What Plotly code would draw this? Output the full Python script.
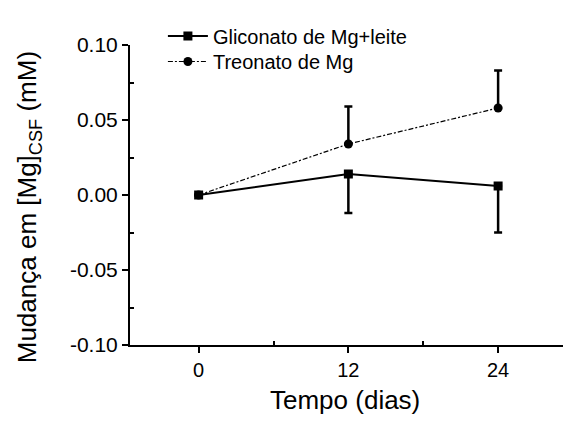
import plotly.graph_objects as go

# Time points (days) and change in CSF magnesium (mM)
dias = [0, 12, 24]
gliconato = [0.0, 0.014, 0.006]
gliconato_err = [0.0, 0.026, 0.031]
treonato = [0.0, 0.034, 0.058]
treonato_err = [0.0, 0.025, 0.025]

x_ticks = [0, 12, 24]
y_ticks = [-0.10, -0.05, 0.00, 0.05, 0.10]
y_tick_labels = ["-0.10", "-0.05", "0.00", "0.05", "0.10"]

FONT = "Liberation Sans, Arial, sans-serif"

fig = go.Figure()

fig.add_trace(go.Scatter(
    x=dias, y=gliconato,
    name="Gliconato de Mg+leite",
    mode="lines+markers",
    line=dict(color="black", width=2),
    marker=dict(symbol="square", size=9, color="black"),
    error_y=dict(type="data", symmetric=False, array=[0, 0, 0],
                 arrayminus=gliconato_err, color="black", thickness=2.5, width=4),
    legend="legend",
))

fig.add_trace(go.Scatter(
    x=dias, y=treonato,
    name="Treonato de Mg",
    mode="lines+markers",
    line=dict(color="black", width=1.2, dash="5px,2px,2px,2px"),
    marker=dict(symbol="circle", size=9, color="black"),
    error_y=dict(type="data", symmetric=False, array=treonato_err,
                 arrayminus=[0, 0, 0], color="black", thickness=2.5, width=4),
    legend="legend2",
))

legend_style = dict(xanchor="left", yanchor="middle", bgcolor="rgba(0,0,0,0)",
                    font=dict(size=20, family=FONT), itemwidth=40)

fig.update_layout(
    width=563, height=430,
    margin=dict(l=130, r=0, t=45, b=85),
    paper_bgcolor="white", plot_bgcolor="white",
    font=dict(family=FONT, color="black"),
    showlegend=True,
    legend=dict(x=0.076, y=1.03, **legend_style),
    legend2=dict(x=0.076, y=0.945, **legend_style),
    xaxis=dict(
        range=[-5.5, 29.2],
        tickvals=x_ticks, ticktext=[str(v) for v in x_ticks],
        ticks="outside", ticklen=6, tickwidth=1.5, tickcolor="black",
        showline=True, linecolor="black", linewidth=2,
        showgrid=False, zeroline=False,
        tickfont=dict(size=20, family=FONT),
        minor=dict(tickvals=[6, 18], ticks="inside", ticklen=4, tickcolor="black"),
    ),
    yaxis=dict(
        range=[-0.10, 0.10],
        tickvals=y_ticks, ticktext=y_tick_labels,
        ticks="outside", ticklen=6, tickwidth=1.5, tickcolor="black",
        showline=True, linecolor="black", linewidth=2,
        showgrid=False, zeroline=False,
        tickfont=dict(size=21, family=FONT),
        minor=dict(tickvals=[-0.075, -0.025, 0.025, 0.075], ticks="inside",
                   ticklen=4, tickcolor="black"),
    ),
    annotations=[
        dict(text="Tempo (dias)", xref="paper", yref="paper",
             x=0.4965, y=-0.183, xanchor="center", yanchor="middle",
             showarrow=False, font=dict(size=26, family=FONT)),
        dict(text="Mudança em [Mg]<sub>CSF</sub> (mM)", xref="paper", yref="paper",
             x=-0.235, y=0.46, xanchor="center", yanchor="middle",
             textangle=-90, showarrow=False, font=dict(size=26, family=FONT)),
    ],
)

fig.write_html("out.html")
